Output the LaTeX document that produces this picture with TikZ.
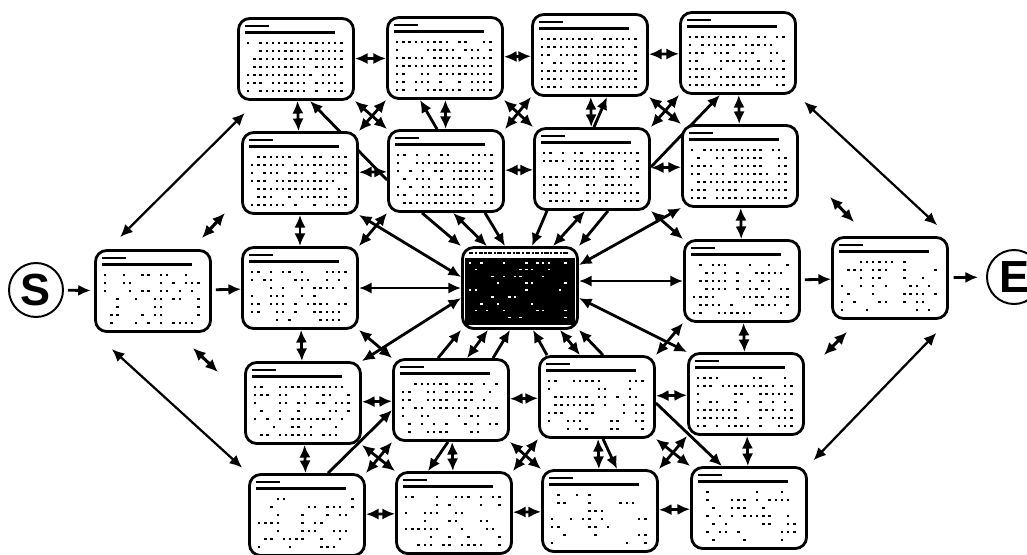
\documentclass[tikz,border=0pt]{standalone}
\usepackage{fontspec}
\newfontfamily\markfont{Liberation Sans}
\usetikzlibrary{arrows.meta,backgrounds}

\newcommand\carddots[2]{%
  \fill ([shift={(0.2cm,-0.2cm)}]#1.north west) rectangle ++(0.6cm,-0.06cm);
  \fill ([shift={(0.2cm,-0.36cm)}]#1.north west) rectangle ++(2.25cm,-0.065cm);
  \foreach \r in {0,...,6}{
    \foreach \c in {0,...,15}{
      \pgfmathtruncatemacro\keep{rnd<#2 ? 1 : 0}
      \ifnum\keep=1
        \fill ([shift={(0.25cm+\c*0.155cm,-0.62cm-\r*0.2cm)}]#1.north west) rectangle ++(0.06cm,-0.06cm);
      \fi
    }
  }
}
\newcommand\hubfill[1]{%
  \fill[black] ([shift={(0.1cm,-0.3cm)}]#1.north west) rectangle ([shift={(-0.1cm,0.12cm)}]#1.south east);
  \draw[line width=1.8pt, dash pattern=on 3pt off 1.2pt on 1.5pt off 1pt] ([shift={(0.2cm,-0.17cm)}]#1.north west) -- ([shift={(-0.25cm,-0.17cm)}]#1.north east);
  \foreach \r in {0,...,8}{
    \foreach \c in {0,...,17}{
      \pgfmathtruncatemacro\keep{rnd<0.3 ? 1 : 0}
      \ifnum\keep=1
        \fill[white] ([shift={(0.2cm+\c*0.14cm,-0.4cm-\r*0.17cm)}]#1.north west) rectangle ++(0.06cm,-0.04cm);
      \fi
    }
  }
}

\begin{document}
\begin{tikzpicture}[x=0.025cm, y=-0.025cm,
    card/.style={draw, line width=2pt, rounded corners=8pt, fill=white, minimum width=2.875cm, minimum height=2.025cm, inner sep=0pt},
    terminal/.style={draw, circle, line width=1.4pt, minimum size=1.35cm, inner sep=0pt, font=\markfont\bfseries\fontsize{32}{32}\selectfont},
    link/.style={line width=2pt, {Latex[length=9pt,width=8pt]}-{Latex[length=9pt,width=8pt]}},
    fwd/.style={line width=2pt, -{Latex[length=9pt,width=8pt]}},
    longlink/.style={line width=1.6pt, {Latex[length=9pt,width=8pt]}-{Latex[length=9pt,width=8pt]}}]
  \useasboundingbox (0,0) rectangle (1027,554);
  \pgfmathsetseed{11}

  \node[card] (A1) at (296,59) {};
  \node[card] (A2) at (445,58) {};
  \node[card] (A3) at (590,55) {};
  \node[card] (A4) at (738,53) {};
  \node[card] (B1) at (300,173) {};
  \node[card] (B2) at (446,171) {};
  \node[card] (B3) at (592,169) {};
  \node[card] (B4) at (740,166) {};
  \node[card] (entry) at (153,291) {};
  \node[card] (C1) at (300,288) {};
  \node[card] (hub) at (520,288) {};
  \node[card] (C4) at (742,281) {};
  \node[card] (exit) at (890,278) {};
  \node[card] (D1) at (303,403) {};
  \node[card] (D2) at (451,400) {};
  \node[card] (D3) at (597,397) {};
  \node[card] (D4) at (746,394) {};
  \node[card] (E1) at (307,515) {};
  \node[card] (E2) at (454,513) {};
  \node[card] (E3) at (600,511) {};
  \node[card] (E4) at (749,508) {};
  \node[terminal] (start) at (36,290) {S};
  \node[terminal] (stop) at (1014,277) {E};

  \foreach \n/\d in {A1/0.8, A2/0.8, A3/0.85, A4/0.8, B1/0.75, B2/0.75, B3/0.8, B4/0.75,
      entry/0.4, C1/0.5, C4/0.65, exit/0.4, D1/0.55, D2/0.6, D3/0.5, D4/0.7,
      E1/0.35, E2/0.4, E3/0.3, E4/0.45}
    \carddots{\n}{\d};
  \hubfill{hub}

  \coordinate (f1a) at (202,238); \coordinate (f1b) at (225,213);
  \coordinate (f2a) at (193,348); \coordinate (f2b) at (218,372);
  \coordinate (f3a) at (830,197); \coordinate (f3b) at (854,222);
  \coordinate (f4a) at (824,355); \coordinate (f4b) at (847,332);

  \begin{pgfonlayer}{background}
    \draw[link] (A1) -- (A2);
    \draw[link] (A2) -- (A3);
    \draw[link] (A3) -- (A4);
    \draw[link] (B1) -- (B2);
    \draw[link] (B2) -- (B3);
    \draw[link] (B3) -- (B4);
    \draw[link] (D1) -- (D2);
    \draw[link] (D2) -- (D3);
    \draw[link] (D3) -- (D4);
    \draw[link] (E1) -- (E2);
    \draw[link] (E2) -- (E3);
    \draw[link] (E3) -- (E4);

    \draw[link] (A1) -- (B1);
    \draw[link] (B1) -- (C1);
    \draw[link] (C1) -- (D1);
    \draw[link] (D1) -- (E1);
    \draw[link] (A2) -- (B2);
    \draw[link] (A3) -- (B3);
    \draw[link] (D2) -- (E2);
    \draw[link] (D3) -- (E3);
    \draw[link] (A4) -- (B4);
    \draw[link] (B4) -- (C4);
    \draw[link] (C4) -- (D4);
    \draw[link] (D4) -- (E4);

    \draw[link] (C1) -- (hub);
    \draw[link] (hub.east |- C4.west) -- (C4.west);
    \draw[fwd, shorten <=0.1cm] (entry) -- (C1);
    \draw[fwd, shorten <=0.1cm] (C4) -- (exit);
    \draw[fwd, shorten <=0.1cm, shorten >=0.08cm] (start) -- (entry);
    \draw[fwd, shorten <=0.12cm, shorten >=0.2cm] (exit) -- (stop);

    \draw[link] (A1.south east) -- (B2.north west);
    \draw[link] (B1.north east) -- (A2.south west);
    \draw[link] (A2.south east) -- (B3.north west);
    \draw[link] (B2.north east) -- (A3.south west);
    \draw[link] (A3.south east) -- (B4.north west);
    \draw[link] (B3.north east) -- (A4.south west);
    \draw[link] (D1.south east) -- (E2.north west);
    \draw[link] (D2.south west) -- (E1.north east);
    \draw[link] (D2.south east) -- (E3.north west);
    \draw[link] (D3.south west) -- (E2.north east);
    \draw[link] (D3.south east) -- (E4.north west);
    \draw[link] (D4.south west) -- (E3.north east);

    \draw[link] (B1.south east) -- ([yshift=0.275cm]hub.west);
    \draw[link] (B2.south west) -- (C1.north east);
    \draw[link] (D1.north east) -- ([yshift=-0.25cm]hub.west);
    \draw[link] (C1.south east) -- (D2.north west);
    \draw[link] ([yshift=0.575cm]hub.east) -- (B4.south west);
    \draw[link] (B3.south east) -- (C4.north west);
    \draw[link] ([yshift=-0.25cm]hub.east) -- (D4.north west);
    \draw[link] (C4.south west) -- (D3.north east);

    \draw[fwd] ([xshift=-0.6cm]B2.south) -- (hub.north west);
    \draw[link] ([xshift=0.175cm]B2.south) -- ([xshift=-0.825cm]hub.north);
    \draw[fwd] ([xshift=0.975cm]B2.south) -- ([xshift=-0.375cm]hub.north);
    \draw[fwd] ([xshift=-1.125cm]B3.south) -- ([xshift=0.3cm]hub.north);
    \draw[link] ([xshift=-0.175cm]B3.south) -- ([xshift=0.825cm]hub.north);
    \draw[fwd] ([xshift=0.4cm]B3.south) -- (hub.north east);
    \draw[fwd] ([xshift=-0.325cm]D2.north) -- (hub.south west);
    \draw[link] ([xshift=0.4cm]D2.north) -- ([xshift=-0.8cm]hub.south);
    \draw[fwd] ([xshift=1.05cm]D2.north) -- ([xshift=-0.25cm]hub.south);
    \draw[fwd] ([xshift=-1.25cm]D3.north) -- ([xshift=0.325cm]hub.south);
    \draw[link] ([xshift=-0.425cm]D3.north) -- ([xshift=1cm]hub.south);
    \draw[fwd] ([xshift=0.15cm]D3.north) -- (hub.south east);

    \draw[fwd] ([yshift=-0.225cm]B2.west) -- ([xshift=0.35cm]A1.south);
    \draw[fwd] ([xshift=-0.225cm]B2.north) -- ([xshift=-0.625cm]A2.south);
    \draw[fwd] ([xshift=0.05cm]B3.north) -- ([xshift=0.425cm]A3.south);
    \draw[fwd] ([yshift=0.05cm]B3.east) -- ([xshift=-0.45cm]A4.south);
    \draw[fwd] ([xshift=0.525cm]E1.north) -- ([yshift=-0.25cm]D2.west);
    \draw[fwd] ([xshift=-0.075cm]D2.south) -- ([xshift=-0.65cm]E2.north);
    \draw[fwd] ([xshift=0.15cm]D3.south) -- ([xshift=0.425cm]E3.north);
    \draw[fwd] ([yshift=-0.15cm]D3.east) -- ([xshift=-0.675cm]E4.north);

    \draw[longlink, shorten <=0.425cm, shorten >=0.425cm] ([xshift=-1.125cm]entry.north) -- ([xshift=-0.975cm]A1.south);
    \draw[longlink, shorten <=0.6cm, shorten >=0.2cm] (entry.south west) -- (E1.north west);
    \draw[longlink, shorten <=0.25cm, shorten >=0.4cm] (A4.south east) -- (exit.north east);
    \draw[longlink, shorten <=0.45cm, shorten >=0.2cm] (exit.south east) -- (E4.north east);

    \draw[link, line width=2.2pt] (f1a) -- (f1b);
    \draw[link, line width=2.2pt] (f2a) -- (f2b);
    \draw[link, line width=2.2pt] (f3a) -- (f3b);
    \draw[link, line width=2.2pt] (f4a) -- (f4b);
  \end{pgfonlayer}
\end{tikzpicture}
\end{document}
